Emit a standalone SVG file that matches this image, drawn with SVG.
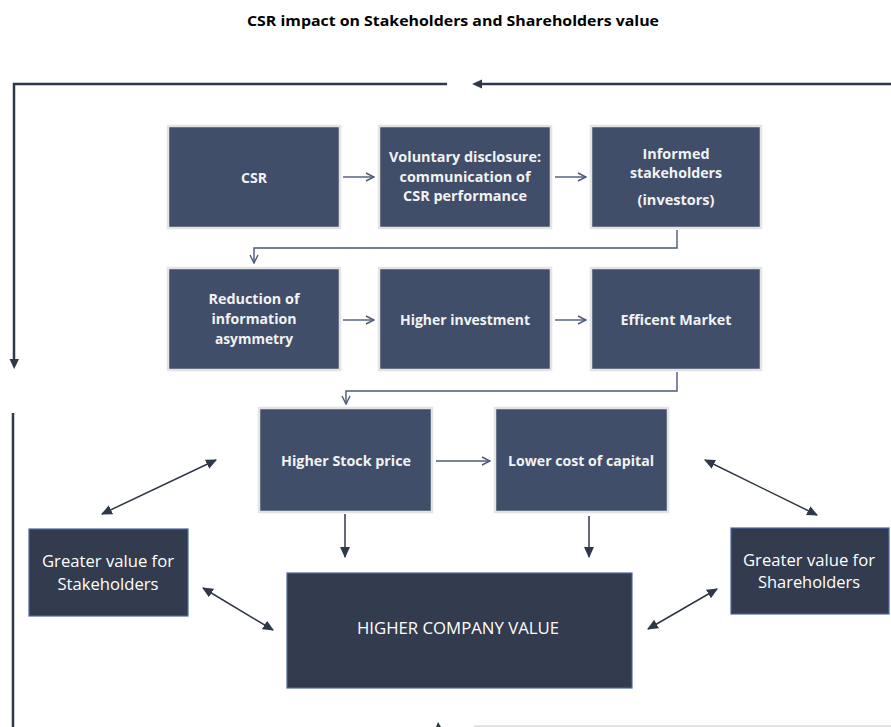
<svg xmlns="http://www.w3.org/2000/svg" width="891" height="727" viewBox="0 0 891 727">
  <style>
    .step { fill: #404e69; stroke: #e4e4e4; stroke-width: 2.5; }
    .result { fill: #323c4e; stroke: #4d67a3; stroke-width: 1.2; }
    .lbl { font-family: "Open Sans", "Liberation Sans", sans-serif; font-weight: bold; font-size: 15px; fill: #f2f2f2; text-anchor: middle; }
    .reg { font-family: "Open Sans", "Liberation Sans", sans-serif; font-size: 16px; fill: #ffffff; text-anchor: middle; }
    .title { font-family: "Open Sans", "Liberation Sans", sans-serif; font-weight: bold; font-size: 15px; fill: #000000; text-anchor: middle; }
    .flow { fill: none; stroke: #4b5976; stroke-width: 1.4; }
    .loop { fill: none; stroke: #2f3847; stroke-width: 2.5; }
    .link { fill: none; stroke: #2f3847; stroke-width: 1.5; }
  </style>
  <defs>
    <marker id="chev" viewBox="0 0 10 10" refX="9" refY="5" markerWidth="10" markerHeight="10" markerUnits="userSpaceOnUse" orient="auto">
      <path d="M1,1 L9,5 L1,9" fill="none" stroke="#4b5976" stroke-width="1.4"/>
    </marker>
    <marker id="tri" viewBox="0 0 10 10" refX="9" refY="5" markerWidth="11" markerHeight="11" markerUnits="userSpaceOnUse" orient="auto-start-reverse">
      <path d="M0,0.5 L10,5 L0,9.5 Z" fill="#2f3847"/>
    </marker>
  </defs>

  <rect width="891" height="727" fill="#ffffff"/>

  <text class="title" x="453" y="26" textLength="412" lengthAdjust="spacingAndGlyphs">CSR impact on Stakeholders and Shareholders value</text>

  <g id="connectors">
    <!-- feedback loop -->
    <polyline class="loop" points="447,84 14,84 14,360"/>
    <path d="M9.5,359 L19,359 L14.2,369 Z" fill="#2f3847"/>
    <line class="loop" x1="481" y1="84" x2="891" y2="84"/>
    <path d="M472,84 L482,79.5 L482,88.5 Z" fill="#2f3847"/>
    <line class="loop" x1="13" y1="413" x2="13" y2="727"/>
    <line x1="474" y1="726" x2="891" y2="726" stroke="#d9d9d9" stroke-width="1.5"/>
    <path d="M436,727 L438,722 L441,727 Z" fill="#2f3847"/>

    <!-- row 1 -->
    <line class="flow" x1="343" y1="177" x2="374" y2="177" marker-end="url(#chev)"/>
    <line class="flow" x1="555" y1="177" x2="586" y2="177" marker-end="url(#chev)"/>
    <polyline class="flow" points="677,230 677,248 254,248 254,263" marker-end="url(#chev)"/>
    <!-- row 2 -->
    <line class="flow" x1="343" y1="320" x2="374" y2="320" marker-end="url(#chev)"/>
    <line class="flow" x1="555" y1="320" x2="586" y2="320" marker-end="url(#chev)"/>
    <polyline class="flow" points="677,372 677,391 346,391 346,404" marker-end="url(#chev)"/>
    <!-- row 3 -->
    <line class="flow" x1="436" y1="461" x2="490" y2="461" marker-end="url(#chev)"/>
    <line class="link" x1="345" y1="514" x2="345" y2="557" marker-end="url(#tri)"/>
    <line class="link" x1="589" y1="516" x2="589" y2="557" marker-end="url(#tri)"/>

    <!-- value links -->
    <line class="link" x1="102" y1="514" x2="216" y2="460" marker-start="url(#tri)" marker-end="url(#tri)"/>
    <line class="link" x1="203" y1="588" x2="273" y2="630" marker-start="url(#tri)" marker-end="url(#tri)"/>
    <line class="link" x1="705" y1="460" x2="817" y2="515" marker-start="url(#tri)" marker-end="url(#tri)"/>
    <line class="link" x1="717" y1="589" x2="648" y2="629" marker-start="url(#tri)" marker-end="url(#tri)"/>
  </g>

  <g id="csr">
    <rect class="step" x="168" y="126" width="172" height="102"/>
    <text class="lbl" x="254" y="183" textLength="26" lengthAdjust="spacingAndGlyphs">CSR</text>
  </g>
  <g id="voluntary-disclosure">
    <rect class="step" x="379" y="126" width="172" height="102"/>
    <text class="lbl" x="465" y="162" textLength="152" lengthAdjust="spacingAndGlyphs">Voluntary disclosure:</text>
    <text class="lbl" x="465" y="182" textLength="131" lengthAdjust="spacingAndGlyphs">communication of</text>
    <text class="lbl" x="465" y="201" textLength="124" lengthAdjust="spacingAndGlyphs">CSR performance</text>
  </g>
  <g id="informed-stakeholders">
    <rect class="step" x="591" y="126" width="170" height="102"/>
    <text class="lbl" x="676" y="159" textLength="67" lengthAdjust="spacingAndGlyphs">Informed</text>
    <text class="lbl" x="676" y="178" textLength="92" lengthAdjust="spacingAndGlyphs">stakeholders</text>
    <text class="lbl" x="676" y="205" textLength="77" lengthAdjust="spacingAndGlyphs">(investors)</text>
  </g>

  <g id="reduction-asymmetry">
    <rect class="step" x="168" y="268" width="172" height="102"/>
    <text class="lbl" x="254" y="304" textLength="91" lengthAdjust="spacingAndGlyphs">Reduction of</text>
    <text class="lbl" x="254" y="324" textLength="85" lengthAdjust="spacingAndGlyphs">information</text>
    <text class="lbl" x="254" y="344" textLength="78" lengthAdjust="spacingAndGlyphs">asymmetry</text>
  </g>
  <g id="higher-investment">
    <rect class="step" x="379" y="268" width="172" height="102"/>
    <text class="lbl" x="465" y="325" textLength="130" lengthAdjust="spacingAndGlyphs">Higher investment</text>
  </g>
  <g id="efficient-market">
    <rect class="step" x="591" y="268" width="170" height="102"/>
    <text class="lbl" x="676" y="325" textLength="111" lengthAdjust="spacingAndGlyphs">Efficent Market</text>
  </g>

  <g id="higher-stock-price">
    <rect class="step" x="259" y="408" width="173" height="104"/>
    <text class="lbl" x="346" y="466" textLength="130" lengthAdjust="spacingAndGlyphs">Higher Stock price</text>
  </g>
  <g id="lower-cost-of-capital">
    <rect class="step" x="495" y="408" width="173" height="104"/>
    <text class="lbl" x="581" y="466" textLength="146" lengthAdjust="spacingAndGlyphs">Lower cost of capital</text>
  </g>

  <g id="value-stakeholders">
    <rect class="result" x="29" y="529" width="159" height="87"/>
    <text class="reg" x="108" y="567" textLength="132" lengthAdjust="spacingAndGlyphs">Greater value for</text>
    <text class="reg" x="108" y="590" textLength="101" lengthAdjust="spacingAndGlyphs">Stakeholders</text>
  </g>
  <g id="value-shareholders">
    <rect class="result" x="731" y="528" width="158" height="86"/>
    <text class="reg" x="809" y="566" textLength="132" lengthAdjust="spacingAndGlyphs">Greater value for</text>
    <text class="reg" x="809" y="588" textLength="102" lengthAdjust="spacingAndGlyphs">Shareholders</text>
  </g>
  <g id="company-value">
    <rect class="result" x="287" y="573" width="345" height="115"/>
    <text class="reg" x="458" y="634" textLength="202" lengthAdjust="spacingAndGlyphs">HIGHER COMPANY VALUE</text>
  </g>
</svg>
